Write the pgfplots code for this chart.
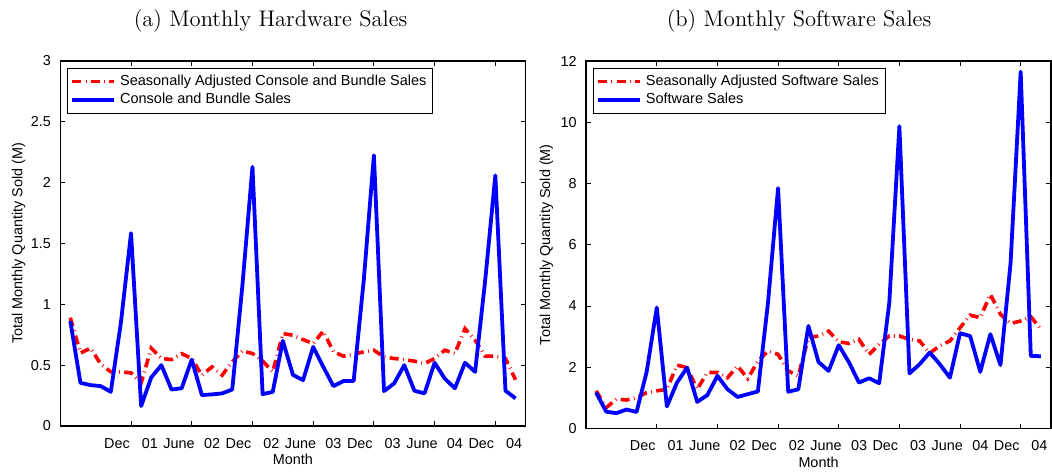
\documentclass[border=0pt]{standalone}
\usepackage{fontspec}
\usepackage{pgfplots}
\pgfplotsset{compat=1.18}
\usepackage{pgfplotstable}
\newfontfamily\hv{Liberation Sans}

% month index 0 = June 2001
\pgfplotstableread{
m  hw     hwsa   sw     swsa
0  0.863  0.89   1.17   1.23
1  0.355  0.60   0.55   0.68
2  0.336  0.64   0.50   0.96
3  0.328  0.51   0.62   0.93
4  0.281  0.445  0.54   1.01
5  0.85   0.445  1.85   1.17
6  1.585  0.437  3.95   1.23
7  0.164  0.355  0.72   1.28
8  0.40   0.64   1.50   2.07
9  0.50   0.555  1.99   1.99
10 0.30   0.546  0.87   1.28
11 0.31   0.595  1.09   1.83
12 0.546  0.555  1.72   1.83
13 0.254  0.418  1.28   1.66
14 0.26   0.486  1.03   2.04
15 0.268  0.418  1.12   1.63
16 0.30   0.527  1.21   2.20
17 1.15   0.617  4.10   2.53
18 2.13   0.596  7.85   2.42
19 0.262  0.535  1.20   1.88
20 0.28   0.445  1.28   1.72
21 0.70   0.76   3.35   2.97
22 0.42   0.746  2.17   3.02
23 0.377  0.71   1.88   3.18
24 0.65   0.678  2.72   2.83
25 0.486  0.78   2.17   2.78
26 0.328  0.61   1.50   2.91
27 0.37   0.574  1.64   2.42
28 0.37   0.59   1.48   2.75
29 1.20   0.61   4.10   3.02
30 2.225  0.623  9.87   3.02
31 0.287  0.568  1.80   2.91
32 0.35   0.555  2.10   2.86
33 0.50   0.546  2.48   2.46
34 0.29   0.533  2.10   2.70
35 0.268  0.514  1.66   2.86
36 0.52   0.555  3.11   3.29
37 0.39   0.623  3.02   3.70
38 0.31   0.596  1.85   3.62
39 0.52   0.80   3.08   4.38
40 0.445  0.705  2.07   3.73
41 1.20   0.574  5.40   3.43
42 2.06   0.574  11.65  3.51
43 0.29   0.555  2.37   3.65
44 0.227  0.38   2.36   3.24
}\sales

\pgfplotsset{
  salesaxis/.style={
    scale only axis, anchor=south west,
    xmin=-1, xmax=45, ymin=0,
    xtick={6,12,...,42},
    xticklabels={Dec\hspace{6pt}01, June\hspace{4.7pt}02, Dec\hspace{6pt}02,
      June\hspace{4.7pt}03, Dec\hspace{6pt}03, June\hspace{4.7pt}04, Dec\hspace{6pt}04},
    tick align=inside, major tick length=2.5pt,
    axis line style={line width=0.6pt},
    every tick/.style={black, line width=0.5pt},
    tick label style={font=\hv\fontsize{7.2}{8.6}\selectfont},
    /pgf/number format/assume math mode=true,
    xticklabel style={inner sep=0pt, anchor=north, yshift=-6pt},
    yticklabel style={inner sep=0pt, anchor=east, xshift=-4.5pt},
    label style={font=\hv\fontsize{7.2}{8.6}\selectfont},
    xlabel={Month},
    xlabel style={at={(axis description cs:0.5,0)}, anchor=north, inner sep=0pt, yshift=-14pt},
    ylabel={Total Monthly Quantity Sold (M)},
    legend style={at={(axis description cs:0,1)}, anchor=north west,
      xshift=3.6pt, yshift=-3.4pt, draw=black, line width=0.5pt, fill=white,
      inner sep=1.2pt, row sep=-1.5pt,
      font=\hv\fontsize{7.25}{8.6}\selectfont},
    legend cell align=left,
    legend image code/.code={\draw[##1] (0pt,0pt) -- (21pt,0pt);},
  },
  sa/.style={red, line width=1.8pt, dash pattern=on 4.5pt off 2.2pt on 0.4pt off 2.2pt},
  raw/.style={blue, line width=1.9pt, line join=round},
}

\begin{document}
\begin{tikzpicture}
\begin{axis}[salesaxis, at={(30.1pt,23pt)}, width=232.75pt, height=182.5pt,
  ymax=3, ytick={0,0.5,...,3},
  ylabel style={at={(axis description cs:-0.0895,0.5)}, anchor=center}]
\addplot[sa] table[x=m, y=hwsa] {\sales};
\addlegendentry{Seasonally Adjusted Console and Bundle Sales}
\addplot[raw] table[x=m, y=hw] {\sales};
\addlegendentry{Console and Bundle Sales}
\end{axis}

\begin{axis}[salesaxis, at={(293pt,21.75pt)}, width=232.5pt, height=183.75pt,
  ymax=12, ytick={0,2,...,12},
  ylabel style={at={(axis description cs:-0.085,0.5)}, anchor=center}]
\addplot[sa] table[x=m, y=swsa] {\sales};
\addlegendentry{Seasonally Adjusted Software Sales}
\addplot[raw] table[x=m, y=sw] {\sales};
\addlegendentry{Software Sales}
\end{axis}

\node[font=\fontsize{11.3}{13}\selectfont, anchor=base] at (135.3pt,222.8pt) {(a) Monthly Hardware Sales};
\node[font=\fontsize{11.3}{13}\selectfont, anchor=base] at (399.5pt,222.8pt) {(b) Monthly Software Sales};

\pgfresetboundingbox
\path (0,0) rectangle (526pt,236pt);
\end{tikzpicture}
\end{document}
